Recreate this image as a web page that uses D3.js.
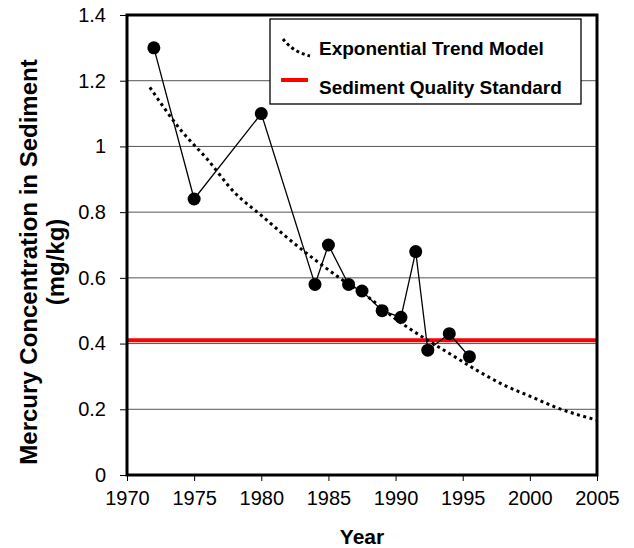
<!DOCTYPE html>
<html>
<head>
<meta charset="utf-8">
<script src="https://cdn.jsdelivr.net/npm/d3@7"></script>
<style>
  html, body { margin: 0; padding: 0; background: #fff; }
  svg { display: block; font-family: Arial, "Liberation Sans", sans-serif; }
</style>
</head>
<body>
<svg id="chart" width="634" height="548"></svg>
<script>
// Mercury measured in sediment, by sampling year (mg/kg)
const years   = [1972, 1975, 1980, 1984, 1985, 1986.5, 1987.5, 1989, 1990.4, 1991.5, 1992.4, 1994, 1995.5];
const mercury = [1.30, 0.84, 1.10, 0.58, 0.70, 0.58, 0.56, 0.50, 0.48, 0.68, 0.38, 0.43, 0.36];

// Exponential trend model, sampled along its course
const trendYears  = [1971.7, 1974, 1976, 1978, 1980, 1982, 1984, 1986, 1988, 1990, 1992, 1994, 1996, 1998, 2000, 2002, 2005];
const trendValues = [1.18, 1.05, 0.96, 0.86, 0.79, 0.72, 0.655, 0.595, 0.54, 0.475, 0.42, 0.37, 0.32, 0.275, 0.24, 0.205, 0.167];

// Sediment quality standard (mg/kg)
const standardValue = 0.41;

// Axis ticks
const xTicks = [1970, 1975, 1980, 1985, 1990, 1995, 2000, 2005];
const yTicks = [0, 0.2, 0.4, 0.6, 0.8, 1, 1.2, 1.4];
const yTickLabels = ["0", "0.2", "0.4", "0.6", "0.8", "1", "1.2", "1.4"];

const legendLabels = ["Exponential Trend Model", "Sediment Quality Standard"];

const svg = d3.select("#chart");
const plot = { left: 127, right: 597, top: 15, bottom: 475 };
const FONT = "Arial, 'Liberation Sans', sans-serif";

const x = d3.scaleLinear().domain([1970, 2005]).range([plot.left, plot.right]);
const y = d3.scaleLinear().domain([0, 1.4]).range([plot.bottom, plot.top]);

// Horizontal gridlines
svg.append("g")
  .selectAll("line")
  .data(yTicks.filter(v => v > 0 && v < 1.4))
  .join("line")
  .attr("x1", plot.left).attr("x2", plot.right)
  .attr("y1", d => y(d)).attr("y2", d => y(d))
  .attr("stroke", "#555").attr("stroke-width", 1);

// Standard line
svg.append("line")
  .attr("x1", plot.left).attr("x2", plot.right)
  .attr("y1", y(standardValue)).attr("y2", y(standardValue))
  .attr("stroke", "#ff0000").attr("stroke-width", 4);

// Trend curve (dotted)
const trendLine = d3.line().x(d => x(d[0])).y(d => y(d[1])).curve(d3.curveMonotoneX);
svg.append("path")
  .attr("d", trendLine(d3.zip(trendYears, trendValues)))
  .attr("fill", "none").attr("stroke", "#000")
  .attr("stroke-width", 3).attr("stroke-dasharray", "3,3.5");

// Measured series
const obs = d3.zip(years, mercury);
svg.append("path")
  .attr("d", d3.line().x(d => x(d[0])).y(d => y(d[1]))(obs))
  .attr("fill", "none").attr("stroke", "#000").attr("stroke-width", 1.3);
svg.append("g")
  .selectAll("circle")
  .data(obs)
  .join("circle")
  .attr("cx", d => x(d[0])).attr("cy", d => y(d[1]))
  .attr("r", 6.5).attr("fill", "#000");

// Axes
const yAxis = d3.axisLeft(y).tickValues(yTicks)
  .tickFormat((d, i) => yTickLabels[i]).tickSize(7).tickPadding(14);
const gy = svg.append("g").attr("transform", `translate(${plot.left},0)`).call(yAxis);
gy.select(".domain").remove();
gy.selectAll(".tick line").attr("stroke", "#000").attr("stroke-width", 1);
gy.selectAll(".tick text").attr("font-size", 20).attr("fill", "#000").attr("font-family", FONT);

const xAxis = d3.axisBottom(x).tickValues(xTicks).tickFormat(d3.format("d")).tickSize(6).tickPadding(10);
const gx = svg.append("g").attr("transform", `translate(0,${plot.bottom})`).call(xAxis);
gx.select(".domain").remove();
gx.selectAll(".tick line").attr("stroke", "#000").attr("stroke-width", 1);
gx.selectAll(".tick text").attr("font-size", 20).attr("fill", "#000").attr("font-family", FONT);

// Plot frame
svg.append("rect")
  .attr("x", plot.left).attr("y", plot.top)
  .attr("width", plot.right - plot.left).attr("height", plot.bottom - plot.top)
  .attr("fill", "none").attr("stroke", "#000").attr("stroke-width", 3);

// Legend
const lg = svg.append("g");
lg.append("rect").attr("x", 270).attr("y", 19).attr("width", 311).attr("height", 85)
  .attr("fill", "#fff").attr("stroke", "#000").attr("stroke-width", 1.3);
lg.append("path").attr("d", "M283,39 Q293,52 310,56")
  .attr("fill", "none").attr("stroke", "#000").attr("stroke-width", 3).attr("stroke-dasharray", "3,3");
lg.append("line").attr("x1", 281).attr("x2", 308).attr("y1", 80).attr("y2", 80)
  .attr("stroke", "#ff0000").attr("stroke-width", 4);
lg.selectAll("text").data(legendLabels).join("text")
  .attr("x", 319).attr("y", (d, i) => 55 + i * 39)
  .attr("font-size", 19).attr("font-weight", "bold").text(d => d);

// Axis titles
svg.append("text").attr("x", 362).attr("y", 544)
  .attr("text-anchor", "middle").attr("font-size", 21).attr("font-weight", "bold").text("Year");
const yt = svg.append("g").attr("transform", "translate(37,262) rotate(-90)");
yt.append("text").attr("text-anchor", "middle").attr("font-size", 24).attr("font-weight", "bold")
  .text("Mercury Concentration in Sediment");
yt.append("text").attr("y", 27).attr("text-anchor", "middle").attr("font-size", 24).attr("font-weight", "bold")
  .text("(mg/kg)");
</script>
</body>
</html>
